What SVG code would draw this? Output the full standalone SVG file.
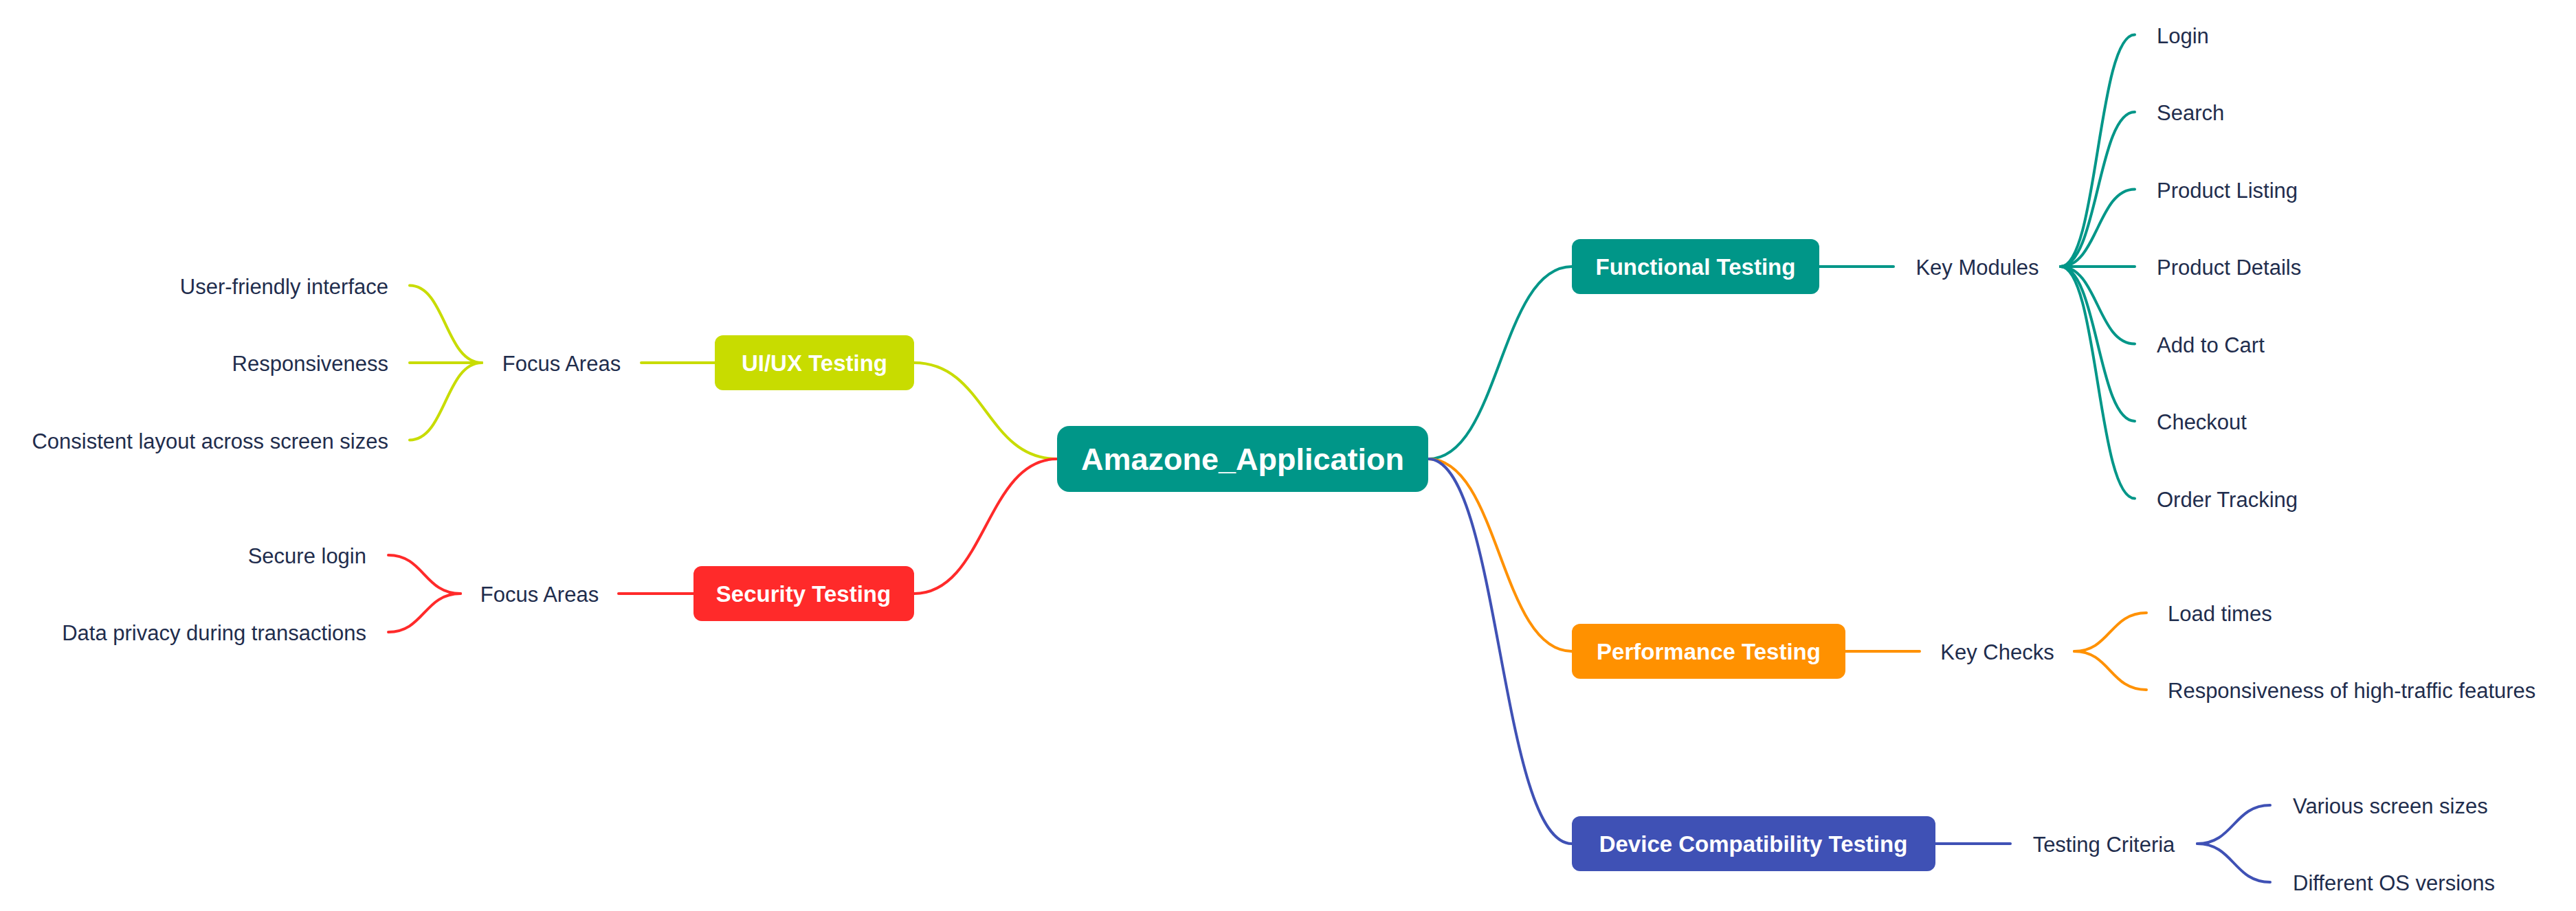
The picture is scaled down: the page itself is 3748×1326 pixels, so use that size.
<svg xmlns="http://www.w3.org/2000/svg" width="3748" height="1326" viewBox="0 0 3748 1326">
<style>
text{font-family:"Liberation Sans",Arial,sans-serif}
.lbl{font-size:31px;fill:#1f2d4d}
.box{font-size:33px;font-weight:bold;fill:#ffffff}
.root{font-size:45px;font-weight:bold;fill:#ffffff}
.c{fill:none;stroke-width:4;stroke-linecap:round}
.teal{stroke:#009688}
.lime{stroke:#c8dc00}
.red{stroke:#ff2a2a}
.orange{stroke:#ff9100}
.blue{stroke:#3f51b5}
</style>
<rect width="3748" height="1326" fill="#ffffff"/>
<g id="connectors">
  <path class="c teal" d="M2078 668 C2182 668 2182 388 2287 388"/>
  <path class="c orange" d="M2078 668 C2182 668 2182 948 2287 948"/>
  <path class="c blue" d="M2078 668 C2182 668 2182 1228 2287 1228"/>
  <path class="c lime" d="M1538 668 C1434 668 1434 528 1330 528"/>
  <path class="c red" d="M1538 668 C1434 668 1434 864 1330 864"/>
  <path class="c teal" d="M2647 388 H2755"/>
  <path class="c orange" d="M2685 948 H2793"/>
  <path class="c blue" d="M2816 1228 H2925"/>
  <path class="c lime" d="M1040 528 H933"/>
  <path class="c red" d="M1009 864 H900"/>
  <path class="c teal" d="M2998 388 C3052 388 3052 50.5 3106 50.5"/>
  <path class="c teal" d="M2998 388 C3052 388 3052 163 3106 163"/>
  <path class="c teal" d="M2998 388 C3052 388 3052 275.5 3106 275.5"/>
  <path class="c teal" d="M2998 388 H3106"/>
  <path class="c teal" d="M2998 388 C3052 388 3052 500.5 3106 500.5"/>
  <path class="c teal" d="M2998 388 C3052 388 3052 613 3106 613"/>
  <path class="c teal" d="M2998 388 C3052 388 3052 725.5 3106 725.5"/>
  <path class="c orange" d="M3018 948 C3070 948 3070 892 3123 892"/>
  <path class="c orange" d="M3018 948 C3070 948 3070 1004 3123 1004"/>
  <path class="c blue" d="M3197 1228 C3250 1228 3250 1172 3303 1172"/>
  <path class="c blue" d="M3197 1228 C3250 1228 3250 1284 3303 1284"/>
  <path class="c lime" d="M701 528 C648 528 648 415.5 596 415.5"/>
  <path class="c lime" d="M701 528 H596"/>
  <path class="c lime" d="M701 528 C648 528 648 640.5 596 640.5"/>
  <path class="c red" d="M670 864 C617 864 617 808 565 808"/>
  <path class="c red" d="M670 864 C617 864 617 920 565 920"/>
</g>
<g id="root">
  <rect x="1538" y="620" width="540" height="96" rx="18" fill="#009688"/>
  <text class="root" x="1808" y="684" text-anchor="middle">Amazone_Application</text>
</g>
<g id="functional">
  <rect x="2287" y="348" width="360" height="80" rx="12" fill="#009688"/>
  <text class="box" x="2467" y="400" text-anchor="middle">Functional Testing</text>
</g>
<g id="performance">
  <rect x="2287" y="908" width="398" height="80" rx="12" fill="#ff9100"/>
  <text class="box" x="2486" y="960" text-anchor="middle">Performance Testing</text>
</g>
<g id="device">
  <rect x="2287" y="1188" width="529" height="80" rx="12" fill="#3f51b5"/>
  <text class="box" x="2551" y="1240" text-anchor="middle">Device Compatibility Testing</text>
</g>
<g id="uiux">
  <rect x="1040" y="488" width="290" height="80" rx="12" fill="#c8dc00"/>
  <text class="box" x="1185" y="540" text-anchor="middle">UI/UX Testing</text>
</g>
<g id="security">
  <rect x="1009" y="824" width="321" height="80" rx="12" fill="#ff2a2a"/>
  <text class="box" x="1169" y="876" text-anchor="middle">Security Testing</text>
</g>
<g id="key-modules"><text class="lbl" x="2877" y="400" text-anchor="middle">Key Modules</text></g>
<g id="key-checks"><text class="lbl" x="2906" y="960" text-anchor="middle">Key Checks</text></g>
<g id="testing-criteria"><text class="lbl" x="3061" y="1240" text-anchor="middle">Testing Criteria</text></g>
<g id="focus-ui"><text class="lbl" x="817" y="540" text-anchor="middle">Focus Areas</text></g>
<g id="focus-sec"><text class="lbl" x="785" y="876" text-anchor="middle">Focus Areas</text></g>
<g id="login"><text class="lbl" x="3138" y="62.5">Login</text></g>
<g id="search"><text class="lbl" x="3138" y="175">Search</text></g>
<g id="product-listing"><text class="lbl" x="3138" y="287.5">Product Listing</text></g>
<g id="product-details"><text class="lbl" x="3138" y="400">Product Details</text></g>
<g id="add-to-cart"><text class="lbl" x="3138" y="512.5">Add to Cart</text></g>
<g id="checkout"><text class="lbl" x="3138" y="625">Checkout</text></g>
<g id="order-tracking"><text class="lbl" x="3138" y="737.5">Order Tracking</text></g>
<g id="load-times"><text class="lbl" x="3154" y="904">Load times</text></g>
<g id="resp-high"><text class="lbl" x="3154" y="1016">Responsiveness of high-traffic features</text></g>
<g id="screen-sizes"><text class="lbl" x="3336" y="1184">Various screen sizes</text></g>
<g id="os-versions"><text class="lbl" x="3336" y="1296">Different OS versions</text></g>
<g id="user-friendly"><text class="lbl" x="565" y="427.5" text-anchor="end">User-friendly interface</text></g>
<g id="responsiveness"><text class="lbl" x="565" y="540" text-anchor="end">Responsiveness</text></g>
<g id="consistent"><text class="lbl" x="565" y="652.5" text-anchor="end">Consistent layout across screen sizes</text></g>
<g id="secure-login"><text class="lbl" x="533" y="820" text-anchor="end">Secure login</text></g>
<g id="data-privacy"><text class="lbl" x="533" y="932" text-anchor="end">Data privacy during transactions</text></g>
</svg>
